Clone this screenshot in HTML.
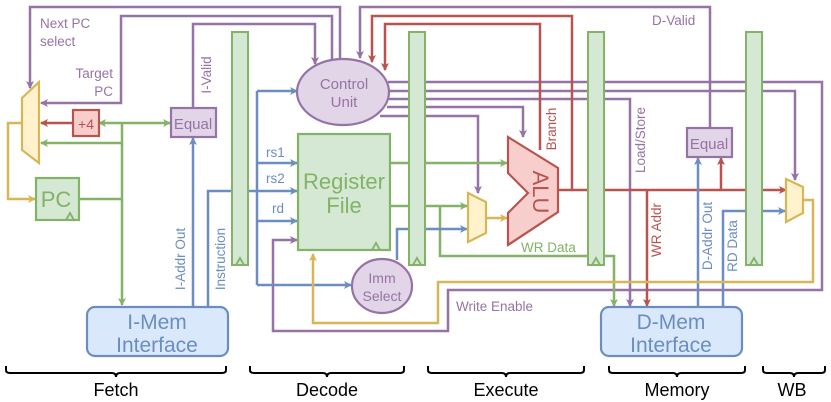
<!DOCTYPE html>
<html><head><meta charset="utf-8"><style>
html,body{margin:0;padding:0;background:#fff;}
svg{display:block;font-family:"Liberation Sans",sans-serif;}
</style></head><body>
<svg width="831" height="402" viewBox="0 0 831 402" xmlns="http://www.w3.org/2000/svg">
<defs>
<marker id="ap" markerWidth="8" markerHeight="8" refX="7" refY="4" orient="auto" markerUnits="userSpaceOnUse"><path d="M0,0 L8,4 L0,8 L2,4z" fill="#9673a6"/></marker>
<marker id="ag" markerWidth="8" markerHeight="8" refX="7" refY="4" orient="auto" markerUnits="userSpaceOnUse"><path d="M0,0 L8,4 L0,8 L2,4z" fill="#82b366"/></marker>
<marker id="agr" markerWidth="8" markerHeight="8" refX="1" refY="4" orient="auto" markerUnits="userSpaceOnUse"><path d="M8,0 L0,4 L8,8 L6,4z" fill="#82b366"/></marker>
<marker id="ab" markerWidth="8" markerHeight="8" refX="7" refY="4" orient="auto" markerUnits="userSpaceOnUse"><path d="M0,0 L8,4 L0,8 L2,4z" fill="#6c8ebf"/></marker>
<marker id="ar" markerWidth="8" markerHeight="8" refX="7" refY="4" orient="auto" markerUnits="userSpaceOnUse"><path d="M0,0 L8,4 L0,8 L2,4z" fill="#b85450"/></marker>
<marker id="ay" markerWidth="8" markerHeight="8" refX="7" refY="4" orient="auto" markerUnits="userSpaceOnUse"><path d="M0,0 L8,4 L0,8 L2,4z" fill="#d6b656"/></marker>
</defs>
<g fill="none" stroke-width="2.5">
<g stroke="#9673a6">
<polyline points="340,60 340,7 30,7 30,88" marker-end="url(#ap)"/>
<polyline points="332,60 332,16 121,16 121,103 41,103" marker-end="url(#ap)"/>
<polyline points="193,108 193,24 315,24 315,64" marker-end="url(#ap)"/>
<polyline points="710,128 710,7 360,7 360,58" marker-end="url(#ap)"/>
<polyline points="388,82 822,82 822,290 448,290 448,331 273,331 273,240 297,240" marker-end="url(#ap)"/>
<polyline points="389,91 795,91 795,180" marker-end="url(#ap)"/>
<polyline points="389,99 630,99 630,306" marker-end="url(#ap)"/>
<polyline points="387,107 523,107 523,137" marker-end="url(#ap)"/>
<polyline points="380,116 478,116 478,193" marker-end="url(#ap)"/>
</g>
<g stroke="#b85450">
<polyline points="572,190 572,16 372,16 372,62" marker-end="url(#ar)"/>
<polyline points="540,150 540,24 385,24 385,70" marker-end="url(#ar)"/>
<polyline points="558,190 786,190" marker-end="url(#ar)"/>
<polyline points="647,190 647,306" marker-end="url(#ar)"/>
<polyline points="721,190 721,158" marker-end="url(#ar)"/>
<polyline points="73,123 41,123" marker-end="url(#ar)"/>
</g>
<g stroke="#82b366">
<polyline points="99,123 170,123" marker-start="url(#agr)" marker-end="url(#ag)"/>
<polyline points="122,123 122,305" marker-end="url(#ag)"/>
<polyline points="122,143 41,143" marker-end="url(#ag)"/>
<polyline points="79,199 122,199"/>
<polyline points="390,163 507,163" marker-end="url(#ag)"/>
<polyline points="390,206 467,206" marker-end="url(#ag)"/>
<polyline points="440,206 440,256 614,256 614,306" marker-end="url(#ag)"/>
</g>
<g stroke="#6c8ebf">
<polyline points="193,307 193,138" marker-end="url(#ab)"/>
<polyline points="208,307 208,191 257,191"/>
<polyline points="257,91 257,285"/>
<polyline points="257,91 297,91" marker-end="url(#ab)"/>
<polyline points="257,163 297,163" marker-end="url(#ab)"/>
<polyline points="257,191 297,191" marker-end="url(#ab)"/>
<polyline points="257,221 297,221" marker-end="url(#ab)"/>
<polyline points="257,285 351,285" marker-end="url(#ab)"/>
<polyline points="397,260 397,229 467,229" marker-end="url(#ab)"/>
<polyline points="698,307 698,158" marker-end="url(#ab)"/>
<polyline points="723,307 723,211 785,211" marker-end="url(#ab)"/>
</g>
<g stroke="#d6b656">
<polyline points="22,123 8,123 8,199 35,199" marker-end="url(#ay)"/>
<polyline points="486,218 507,218" marker-end="url(#ay)"/>
<polyline points="803,200 813,200 813,282 438,282 438,323 313,323 313,254" marker-end="url(#ay)"/>
</g>
</g>
<g fill="#d5e8d4" stroke="#82b366" stroke-width="2">
<rect x="232" y="32" width="16" height="233"/>
<rect x="409" y="32" width="16" height="233"/>
<rect x="588" y="32" width="16" height="233"/>
<rect x="746" y="32" width="16" height="233"/>
</g>
<g fill="none" stroke="#82b366" stroke-width="1.8">
<path d="M236,265 L240,258 L244,265"/><path d="M413,265 L417,258 L421,265"/><path d="M592,265 L596,258 L600,265"/><path d="M750,265 L754,258 L758,265"/>
</g>
<rect x="36" y="178" width="43" height="42" fill="#d5e8d4" stroke="#82b366" stroke-width="2.2"/>
<path d="M66,220 L70,213 L74,220" fill="none" stroke="#82b366" stroke-width="1.8"/>
<text x="56" y="207" font-size="22" fill="#82b366" text-anchor="middle">PC</text>
<rect x="73" y="110" width="26" height="26" fill="#f8cecc" stroke="#b85450" stroke-width="2.2"/>
<text x="86" y="129" font-size="14" fill="#b85450" text-anchor="middle">+4</text>
<rect x="171" y="108" width="45" height="29" fill="#e1d5e7" stroke="#9673a6" stroke-width="2.2"/>
<text x="193" y="129" font-size="15" fill="#9673a6" text-anchor="middle">Equal</text>
<rect x="687" y="128" width="45" height="29" fill="#e1d5e7" stroke="#9673a6" stroke-width="2.2"/>
<text x="709" y="149" font-size="15" fill="#9673a6" text-anchor="middle">Equal</text>
<polygon points="22,98 39,82 39,163 22,150" fill="#fff2cc" stroke="#d6b656" stroke-width="2.2"/>
<polygon points="468,193 486,202 486,233 468,242" fill="#fff2cc" stroke="#d6b656" stroke-width="2.2"/>
<polygon points="786,179 803,187 803,213 786,222" fill="#fff2cc" stroke="#d6b656" stroke-width="2.2"/>
<ellipse cx="343" cy="92" rx="46" ry="33" fill="#e1d5e7" stroke="#9673a6" stroke-width="2.2"/>
<text x="344" y="89" font-size="15" fill="#9673a6" text-anchor="middle">Control</text>
<text x="344" y="107" font-size="15" fill="#9673a6" text-anchor="middle">Unit</text>
<rect x="298" y="134" width="92" height="116" fill="#d5e8d4" stroke="#82b366" stroke-width="2.2"/>
<path d="M372,250 L376,243 L380,250" fill="none" stroke="#82b366" stroke-width="1.8"/>
<text x="344" y="189" font-size="22" fill="#82b366" text-anchor="middle">Register</text>
<text x="344" y="213" font-size="22" fill="#82b366" text-anchor="middle">File</text>
<ellipse cx="382" cy="286" rx="30" ry="27" fill="#e1d5e7" stroke="#9673a6" stroke-width="2.2"/>
<text x="382" y="283" font-size="14" fill="#9673a6" text-anchor="middle">Imm</text>
<text x="382" y="301" font-size="14" fill="#9673a6" text-anchor="middle">Select</text>
<polygon points="508,137 558,168 558,212 508,245 508,213 528,193 508,173" fill="#f8cecc" stroke="#b85450" stroke-width="2.2"/>
<text x="0" y="0" font-size="22" fill="#b85450" text-anchor="middle" transform="translate(533,192) rotate(90)">ALU</text>
<rect x="87" y="307" width="141" height="49" rx="8" fill="#dae8fc" stroke="#6c8ebf" stroke-width="2.2"/>
<text x="157" y="329" font-size="21" fill="#6c8ebf" text-anchor="middle">I-Mem</text>
<text x="157" y="352" font-size="21" fill="#6c8ebf" text-anchor="middle">Interface</text>
<rect x="601" y="307" width="141" height="49" rx="8" fill="#dae8fc" stroke="#6c8ebf" stroke-width="2.2"/>
<text x="671" y="329" font-size="21" fill="#6c8ebf" text-anchor="middle">D-Mem</text>
<text x="671" y="352" font-size="21" fill="#6c8ebf" text-anchor="middle">Interface</text>
<g font-size="13.5">
<text x="40" y="28" fill="#9673a6">Next PC</text>
<text x="40" y="46" fill="#9673a6">select</text>
<text x="113" y="78" fill="#9673a6" text-anchor="end">Target</text>
<text x="113" y="96" fill="#9673a6" text-anchor="end">PC</text>
<text transform="translate(211,75) rotate(-90)" fill="#9673a6" text-anchor="middle">I-Valid</text>
<text transform="translate(185,259) rotate(-90)" fill="#6c8ebf" text-anchor="middle">I-Addr Out</text>
<text transform="translate(225,259) rotate(-90)" fill="#6c8ebf" text-anchor="middle">Instruction</text>
<text x="266" y="157" fill="#6c8ebf">rs1</text>
<text x="266" y="183" fill="#6c8ebf">rs2</text>
<text x="272" y="213" fill="#6c8ebf">rd</text>
<text transform="translate(556,129) rotate(-90)" fill="#b85450" text-anchor="middle">Branch</text>
<text transform="translate(645,140) rotate(-90)" fill="#9673a6" text-anchor="middle">Load/Store</text>
<text transform="translate(661,230) rotate(-90)" fill="#b85450" text-anchor="middle">WR Addr</text>
<text transform="translate(712,236) rotate(-90)" fill="#6c8ebf" text-anchor="middle">D-Addr Out</text>
<text transform="translate(737,246) rotate(-90)" fill="#6c8ebf" text-anchor="middle">RD Data</text>
<text x="652" y="25" fill="#9673a6">D-Valid</text>
<text x="456" y="311" fill="#9673a6">Write Enable</text>
<text x="521" y="252" fill="#82b366">WR Data</text>
</g>
<g fill="none" stroke="#000" stroke-width="2">
<path d="M6,366 v4 q0,3 4,3 h102 q4,0 4,4 q0,-4 4,-4 h102 q4,0 4,-3 v-4"/>
<path d="M250,366 v4 q0,3 4,3 h69 q4,0 4,4 q0,-4 4,-4 h69 q4,0 4,-3 v-4"/>
<path d="M428,366 v4 q0,3 4,3 h70 q4,0 4,4 q0,-4 4,-4 h70 q4,0 4,-3 v-4"/>
<path d="M609,366 v4 q0,3 4,3 h60 q4,0 4,4 q0,-4 4,-4 h60 q4,0 4,-3 v-4"/>
<path d="M763,366 v4 q0,3 4,3 h23 q4,0 4,4 q0,-4 4,-4 h23 q4,0 4,-3 v-4"/>
</g>
<g font-size="18" fill="#000" text-anchor="middle">
<text x="116" y="396">Fetch</text>
<text x="327" y="396">Decode</text>
<text x="506" y="396">Execute</text>
<text x="677" y="396">Memory</text>
<text x="792" y="396">WB</text>
</g>
</svg>
</body></html>
